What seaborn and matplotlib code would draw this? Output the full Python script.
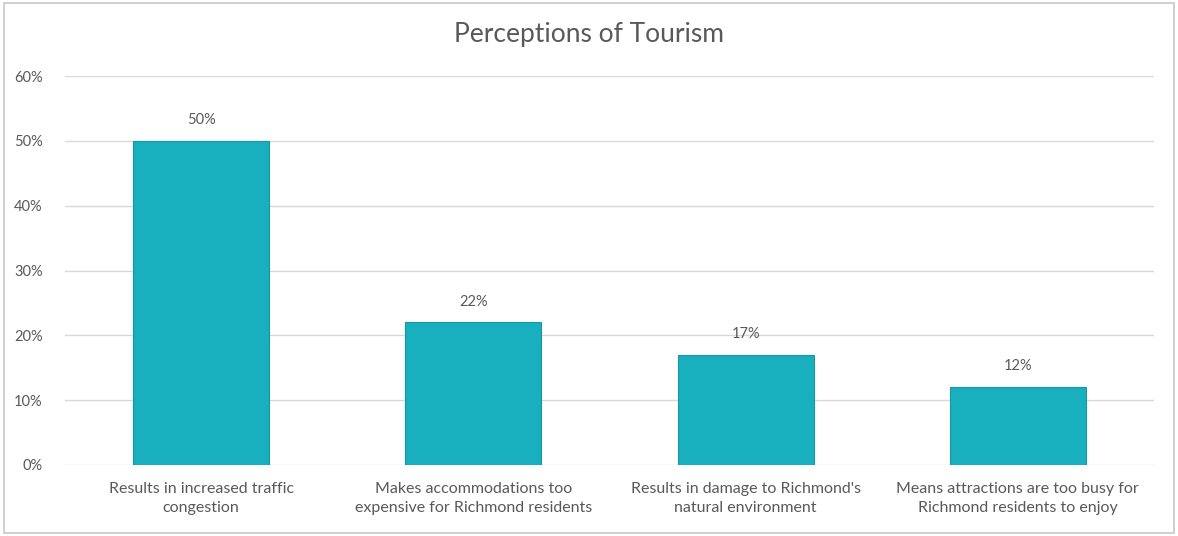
import matplotlib
matplotlib.use("Agg")
import matplotlib.pyplot as plt
import seaborn as sns
import pandas as pd
from matplotlib.patches import Rectangle

categories = [
    "Results in increased traffic\ncongestion",
    "Makes accommodations too\nexpensive for Richmond residents",
    "Results in damage to Richmond's\nnatural environment",
    "Means attractions are too busy for\nRichmond residents to enjoy",
]
values = [50, 22, 17, 12]
y_ticks = [0, 10, 20, 30, 40, 50, 60]
title = "Perceptions of Tourism"

bar_color = "#18B0BF"
text_color = "#595959"
grid_color = "#D9D9D9"

sns.set_theme(style="white")
plt.rcParams["font.family"] = ["Lato", "DejaVu Sans"]

df = pd.DataFrame({"category": categories, "value": values})

fig = plt.figure(figsize=(11.78, 5.36), dpi=100)
ax = fig.add_axes([0.0552, 0.1325, 0.9244, 0.7255])

sns.barplot(data=df, x="category", y="value", color=bar_color, width=0.5,
            saturation=1, edgecolor="#1796A8", linewidth=0.8, ax=ax, zorder=3)

ax.set_ylim(0, 60)
ax.set_xlim(-0.5, len(categories) - 0.5)
ax.set_yticks(y_ticks)
ax.set_yticklabels([f"{t}%" for t in y_ticks], color=text_color, fontsize=10.5)
ax.tick_params(axis="y", length=0, pad=16)
ax.tick_params(axis="x", length=0, pad=12, labelsize=11.5, labelcolor=text_color)
for lbl in ax.get_xticklabels():
    lbl.set_linespacing(1.45)
ax.grid(axis="y", color=grid_color, linewidth=1, zorder=0)
for s in ax.spines.values():
    s.set_visible(False)
ax.set_xlabel("")
ax.set_ylabel("")

for container in ax.containers:
    ax.bar_label(container, labels=[f"{v}%" for v in values], padding=10,
                 color=text_color, fontsize=10.5)

fig.text(0.5, 0.936, title, ha="center", va="center", fontsize=19, color=text_color)

fig.patches.append(Rectangle((0.003, 0.006), 0.994, 0.988, transform=fig.transFigure,
                             fill=False, edgecolor="#C8C8C8", linewidth=1.2))

fig.savefig("out.png", dpi=100, facecolor="white")
